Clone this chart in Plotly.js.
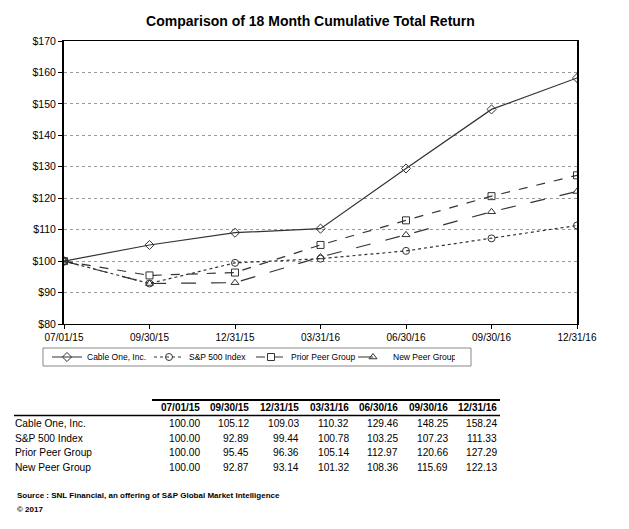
<!DOCTYPE html>
<html><head><meta charset="utf-8">
<script src="https://cdn.plot.ly/plotly-3.0.1.min.js"></script>
<style>body{margin:0;background:#fff}#c{width:629px;height:529px}</style>
</head><body><div id="c"></div>
<script>
const dates = ['07/01/15','09/30/15','12/31/15','03/31/16','06/30/16','09/30/16','12/31/16'];
const seriesNames = ['Cable One, Inc.','S&P 500 Index','Prior Peer Group','New Peer Group'];
const cableOne = [100.00,105.12,109.03,110.32,129.46,148.25,158.24];
const sp500 = [100.00,92.89,99.44,100.78,103.25,107.23,111.33];
const priorPeer = [100.00,95.45,96.36,105.14,112.97,120.66,127.29];
const newPeer = [100.00,92.87,93.14,101.32,108.36,115.69,122.13];
const allSeries = [cableOne, sp500, priorPeer, newPeer];

const styles = [
  {dash:'solid', symbol:'diamond-open'},
  {dash:'dot', symbol:'circle-open'},
  {dash:'dash', symbol:'square-open'},
  {dash:'longdash', symbol:'triangle-up-open'}
];

const L=64, R=577, T=41, B=324;
const px = x => (x-L)/(R-L);
const py = y => (B-y)/(B-T);

const traces = allSeries.map((s,i)=>({
  x: dates, y: s, name: seriesNames[i], type:'scatter', mode:'lines+markers',
  line:{color:'#333', width:1.2, dash:styles[i].dash},
  marker:{symbol:styles[i].symbol, size:7, color:'#333', line:{width:1, color:'#333'}}
}));

const annotations = [];
const shapes = [];
const font = 'Liberation Sans, Arial, sans-serif';
const tsize = 10.2;
const colRight = [200,249,299,349,398,448,497];
const headerY = 408;
const rowY = [423,438,452,467];
dates.forEach((d,j)=>{
  annotations.push({xref:'paper',yref:'paper',x:px(colRight[j]),y:py(headerY),text:'<b>'+d+'</b>',
    showarrow:false,xanchor:'right',yanchor:'middle',xshift:2,font:{family:font,size:10,color:'#000'}});
});
seriesNames.forEach((n,i)=>{
  annotations.push({xref:'paper',yref:'paper',x:px(15),y:py(rowY[i]),text:n,
    showarrow:false,xanchor:'left',yanchor:'middle',xshift:-2,font:{family:font,size:tsize,color:'#000'}});
  allSeries[i].forEach((v,j)=>{
    annotations.push({xref:'paper',yref:'paper',x:px(colRight[j]),y:py(rowY[i]),text:v.toFixed(2),
      showarrow:false,xanchor:'right',yanchor:'middle',xshift:2,font:{family:font,size:tsize,color:'#000'}});
  });
});
annotations.push({xref:'paper',yref:'paper',x:px(17),y:py(496),text:'<b>Source : SNL Financial, an offering of S&P Global Market Intelligence</b>',
  showarrow:false,xanchor:'left',yanchor:'middle',xshift:-2,font:{family:font,size:8,color:'#000'}});
annotations.push({xref:'paper',yref:'paper',x:px(17),y:py(509),text:'<b>© 2017</b>',
  showarrow:false,xanchor:'left',yanchor:'middle',xshift:-2,font:{family:font,size:8,color:'#000'}});

shapes.push({type:'line',xref:'paper',yref:'paper',x0:px(152),x1:px(500),y0:py(400),y1:py(400),line:{color:'#000',width:2}});
shapes.push({type:'line',xref:'paper',yref:'paper',x0:px(14),x1:px(500),y0:py(415.5),y1:py(415.5),line:{color:'#000',width:1.5}});
shapes.push({type:'rect',xref:'paper',yref:'paper',x0:px(43),x1:px(471),y0:py(348),y1:py(366),line:{color:'#888',width:1}});

const layout = {
  width:629, height:529,
  margin:{l:L, r:629-R, t:T, b:529-B},
  paper_bgcolor:'#fff', plot_bgcolor:'#fff',
  title:{text:'<b>Comparison of 18 Month Cumulative Total Return</b>', x:310.5/629, xanchor:'center', y:1-21/529, yanchor:'middle',
    font:{family:font, size:14, color:'#000'}},
  showlegend:true,
  legend:{orientation:'h', x:px(47), y:py(357), xanchor:'left', yanchor:'middle',
    borderwidth:0, bgcolor:'rgba(0,0,0,0)', font:{family:font,size:8.5,color:'#000'},
    entrywidth:57, entrywidthmode:'pixels', tracegroupgap:0, itemwidth:30},
  xaxis:{type:'category', range:[0,6], showgrid:false, zeroline:false,
    showline:true, linecolor:'#000', linewidth:1, mirror:true,
    ticks:'outside', ticklen:4, tickcolor:'#000',
    tickfont:{family:font,size:10,color:'#000'}},
  yaxis:{range:[80,170], dtick:10, tickprefix:'$', showgrid:true,
    gridcolor:'#999', griddash:'dot', gridwidth:1, zeroline:false,
    showline:true, linecolor:'#000', linewidth:2, mirror:true,
    ticks:'outside', ticklen:4, tickcolor:'#000',
    tickfont:{family:font,size:10.5,color:'#000'}},
  annotations, shapes
};
Plotly.newPlot('c', traces, layout, {displayModeBar:false, staticPlot:true});
</script></body></html>
